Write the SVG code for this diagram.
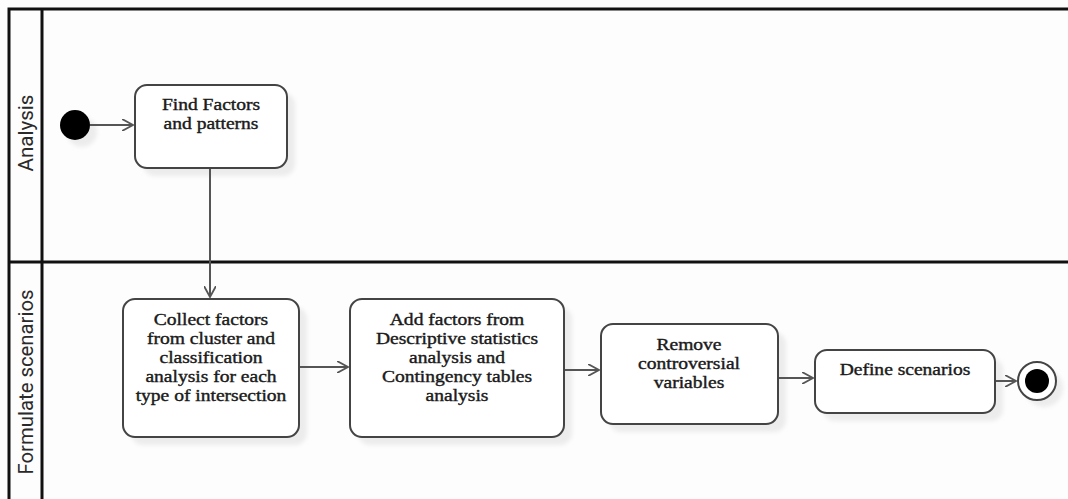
<svg xmlns="http://www.w3.org/2000/svg" width="1068" height="499" viewBox="0 0 1068 499">
<style>
.frame{fill:none;stroke:#111;stroke-width:3}
.box{fill:#fff;stroke:#444;stroke-width:2}
.sh{fill:#ececec}
.lbl{font-family:"Liberation Serif",serif;font-size:17px;fill:#1a1a1a;stroke:#1a1a1a;stroke-width:0.4;text-anchor:middle}
.lane{font-family:Roboto,"Liberation Sans",sans-serif;font-weight:400;font-size:20px;fill:#2a2a2a;text-anchor:middle}
.edge{fill:none;stroke:#555;stroke-width:2}
</style>
<defs>
<marker id="arr" viewBox="0 0 12 12" refX="11" refY="6" markerWidth="12" markerHeight="12" markerUnits="userSpaceOnUse" orient="auto">
<path d="M0,0 L11,6 L0,12" fill="none" stroke="#555" stroke-width="1.8"/>
</marker>
<filter id="blur" x="-20%" y="-20%" width="140%" height="140%"><feGaussianBlur stdDeviation="2"/></filter>
</defs>
<rect width="1068" height="499" fill="#fdfdfd"/>
<g id="lanes">
<path class="frame" d="M1070,9 H9 V502 M42,9 V502 M9,262 H1070"/>
<text class="lane" transform="translate(33,133) rotate(-90)" textLength="77" lengthAdjust="spacingAndGlyphs">Analysis</text>
<text class="lane" transform="translate(33,382) rotate(-90)" textLength="185" lengthAdjust="spacingAndGlyphs">Formulate scenarios</text>
</g>
<g id="start">
<circle cx="82" cy="132" r="15" class="sh" filter="url(#blur)"/>
<circle cx="75" cy="125" r="15" fill="#000"/>
</g>
<g id="find">
<rect x="143" y="93" width="152" height="83" rx="12" class="sh" filter="url(#blur)"/>
<rect x="135" y="85" width="152" height="83" rx="12" class="box"/>
<text class="lbl" transform="translate(211,0) scale(1.15,1)" y="110"><tspan x="0">Find Factors</tspan><tspan x="0" dy="19">and patterns</tspan></text>
</g>
<g id="collect">
<rect x="131" y="307" width="176" height="138" rx="12" class="sh" filter="url(#blur)"/>
<rect x="123" y="299" width="176" height="138" rx="12" class="box"/>
<text class="lbl" transform="translate(211,0) scale(1.15,1)" y="325"><tspan x="0">Collect factors</tspan><tspan x="0" dy="19">from cluster and</tspan><tspan x="0" dy="19">classification</tspan><tspan x="0" dy="19">analysis for each</tspan><tspan x="0" dy="19">type of intersection</tspan></text>
</g>
<g id="add">
<rect x="358" y="307" width="214" height="138" rx="12" class="sh" filter="url(#blur)"/>
<rect x="350" y="299" width="214" height="138" rx="12" class="box"/>
<text class="lbl" transform="translate(457,0) scale(1.15,1)" y="325"><tspan x="0">Add factors from</tspan><tspan x="0" dy="19">Descriptive statistics</tspan><tspan x="0" dy="19">analysis and</tspan><tspan x="0" dy="19">Contingency tables</tspan><tspan x="0" dy="19">analysis</tspan></text>
</g>
<g id="remove">
<rect x="609" y="332" width="177" height="100" rx="12" class="sh" filter="url(#blur)"/>
<rect x="601" y="324" width="177" height="100" rx="12" class="box"/>
<text class="lbl" transform="translate(689,0) scale(1.15,1)" y="350"><tspan x="0">Remove</tspan><tspan x="0" dy="19">controversial</tspan><tspan x="0" dy="19">variables</tspan></text>
</g>
<g id="define">
<rect x="823" y="358" width="180" height="63" rx="12" class="sh" filter="url(#blur)"/>
<rect x="815" y="350" width="180" height="63" rx="12" class="box"/>
<text class="lbl" transform="translate(905,0) scale(1.15,1)" x="0" y="375">Define scenarios</text>
</g>
<g id="end">
<circle cx="1044" cy="388" r="19" class="sh" filter="url(#blur)"/>
<circle cx="1037" cy="381" r="19" fill="#fff" stroke="#444" stroke-width="2"/>
<circle cx="1037" cy="381" r="12" fill="#000"/>
</g>
<g id="edges">
<path class="edge" d="M90,125 H133" marker-end="url(#arr)"/>
<path class="edge" d="M210,169 V297" marker-end="url(#arr)"/>
<path class="edge" d="M300,367 H348" marker-end="url(#arr)"/>
<path class="edge" d="M565,370 H599" marker-end="url(#arr)"/>
<path class="edge" d="M779,378 H813" marker-end="url(#arr)"/>
<path class="edge" d="M996,381 H1016" marker-end="url(#arr)"/>
</g>
</svg>
